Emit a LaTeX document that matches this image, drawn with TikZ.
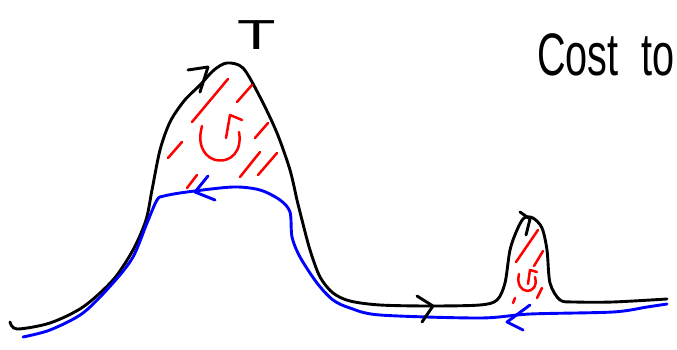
\documentclass[tikz,border=0pt]{standalone}
\usepackage{fontspec}
\setmainfont{Liberation Sans}
\begin{document}
\begin{tikzpicture}[x=1pt, y=-1pt, line cap=round, line join=round,
  every node/.style={inner sep=0pt},
  curve/.style={line width=2.9pt},
  hatch/.style={red, line width=2.5pt},
  barb/.style={line width=2.9pt}]
\useasboundingbox (0,0) rectangle (677,350);
\clip (0,0) rectangle (677,350);
% labels
\node[anchor=base, font=\fontsize{42}{42}\selectfont] (tlabel) at (257,50) {\scalebox{1.5}[1]{T}};
\node[anchor=base west, font=\fontsize{60}{60}\selectfont] (costlabel) at (537,76) {\scalebox{0.66}[1]{Cost\hspace{35pt}to}};
% black path
\draw[curve] plot[smooth, tension=0.5] coordinates {(10,322) (17,329) (50,323) (83,307) (113,280) (133,250) (146,220) (152,190) (160,150) (170,122) (184,101) (200,85) (214,70) (227,63) (243,68) (260,97) (277,133) (290,170) (297,200) (302,220) (310,250) (320,277) (333,293) (350,301) (380,305) (430,306) (480,305) (497,300) (505,283) (510,250) (517,230) (524,218) (533,218) (542,228) (547,250) (550,283) (560,300) (575,302) (613,302) (667,299)};
% blue path
\draw[curve, blue] plot[smooth, tension=0.5] coordinates {(23,337) (50,330) (83,313) (113,283) (133,257) (147,223) (157,200) (164,196) (187,192) (233,187) (260,190) (280,200) (290,212) (292,237) (300,257) (317,283) (333,300) (350,308) (380,315) (480,318) (530,314) (613,312) (647,307) (667,304)};
% arrowheads
\draw[barb] (188,70) -- (208,67) -- (200,92);
\draw[barb] (417,296) -- (433,306) -- (422,322);
\draw[barb] (520,212) -- (530,219) -- (526,235);
\draw[barb, blue] (208,176) -- (195,192) -- (215,200);
\draw[barb, blue] (530,305) -- (507,322) -- (523,330);
% hatching, big bump
\draw[hatch] (228,79) -- (192,122);
\draw[hatch] (252,85) -- (237,102);
\draw[hatch] (182,142) -- (168,158);
\draw[hatch] (268,123) -- (255,138);
\draw[hatch] (260,152) -- (240,177);
\draw[hatch] (277,153) -- (258,175);
\draw[hatch] (197,175) -- (187,188);
% loop, big bump
\draw[hatch] (202,126) .. controls (190,170) and (246,172) .. (239,132);
\draw[hatch] (226,138) -- (230,115) -- (242,120);
% hatching, small bump
\draw[hatch] (538,230) -- (516,262);
\draw[hatch] (543,251) -- (534,266);
\draw[hatch] (542,288) -- (537,298);
\draw[hatch] (515,298) -- (513,303);
% loop, small bump
\draw[hatch] (519,274) .. controls (514,296) and (540,296) .. (535,277);
\draw[hatch] (528,284) -- (530,270) -- (537,272);
\end{tikzpicture}
\end{document}
